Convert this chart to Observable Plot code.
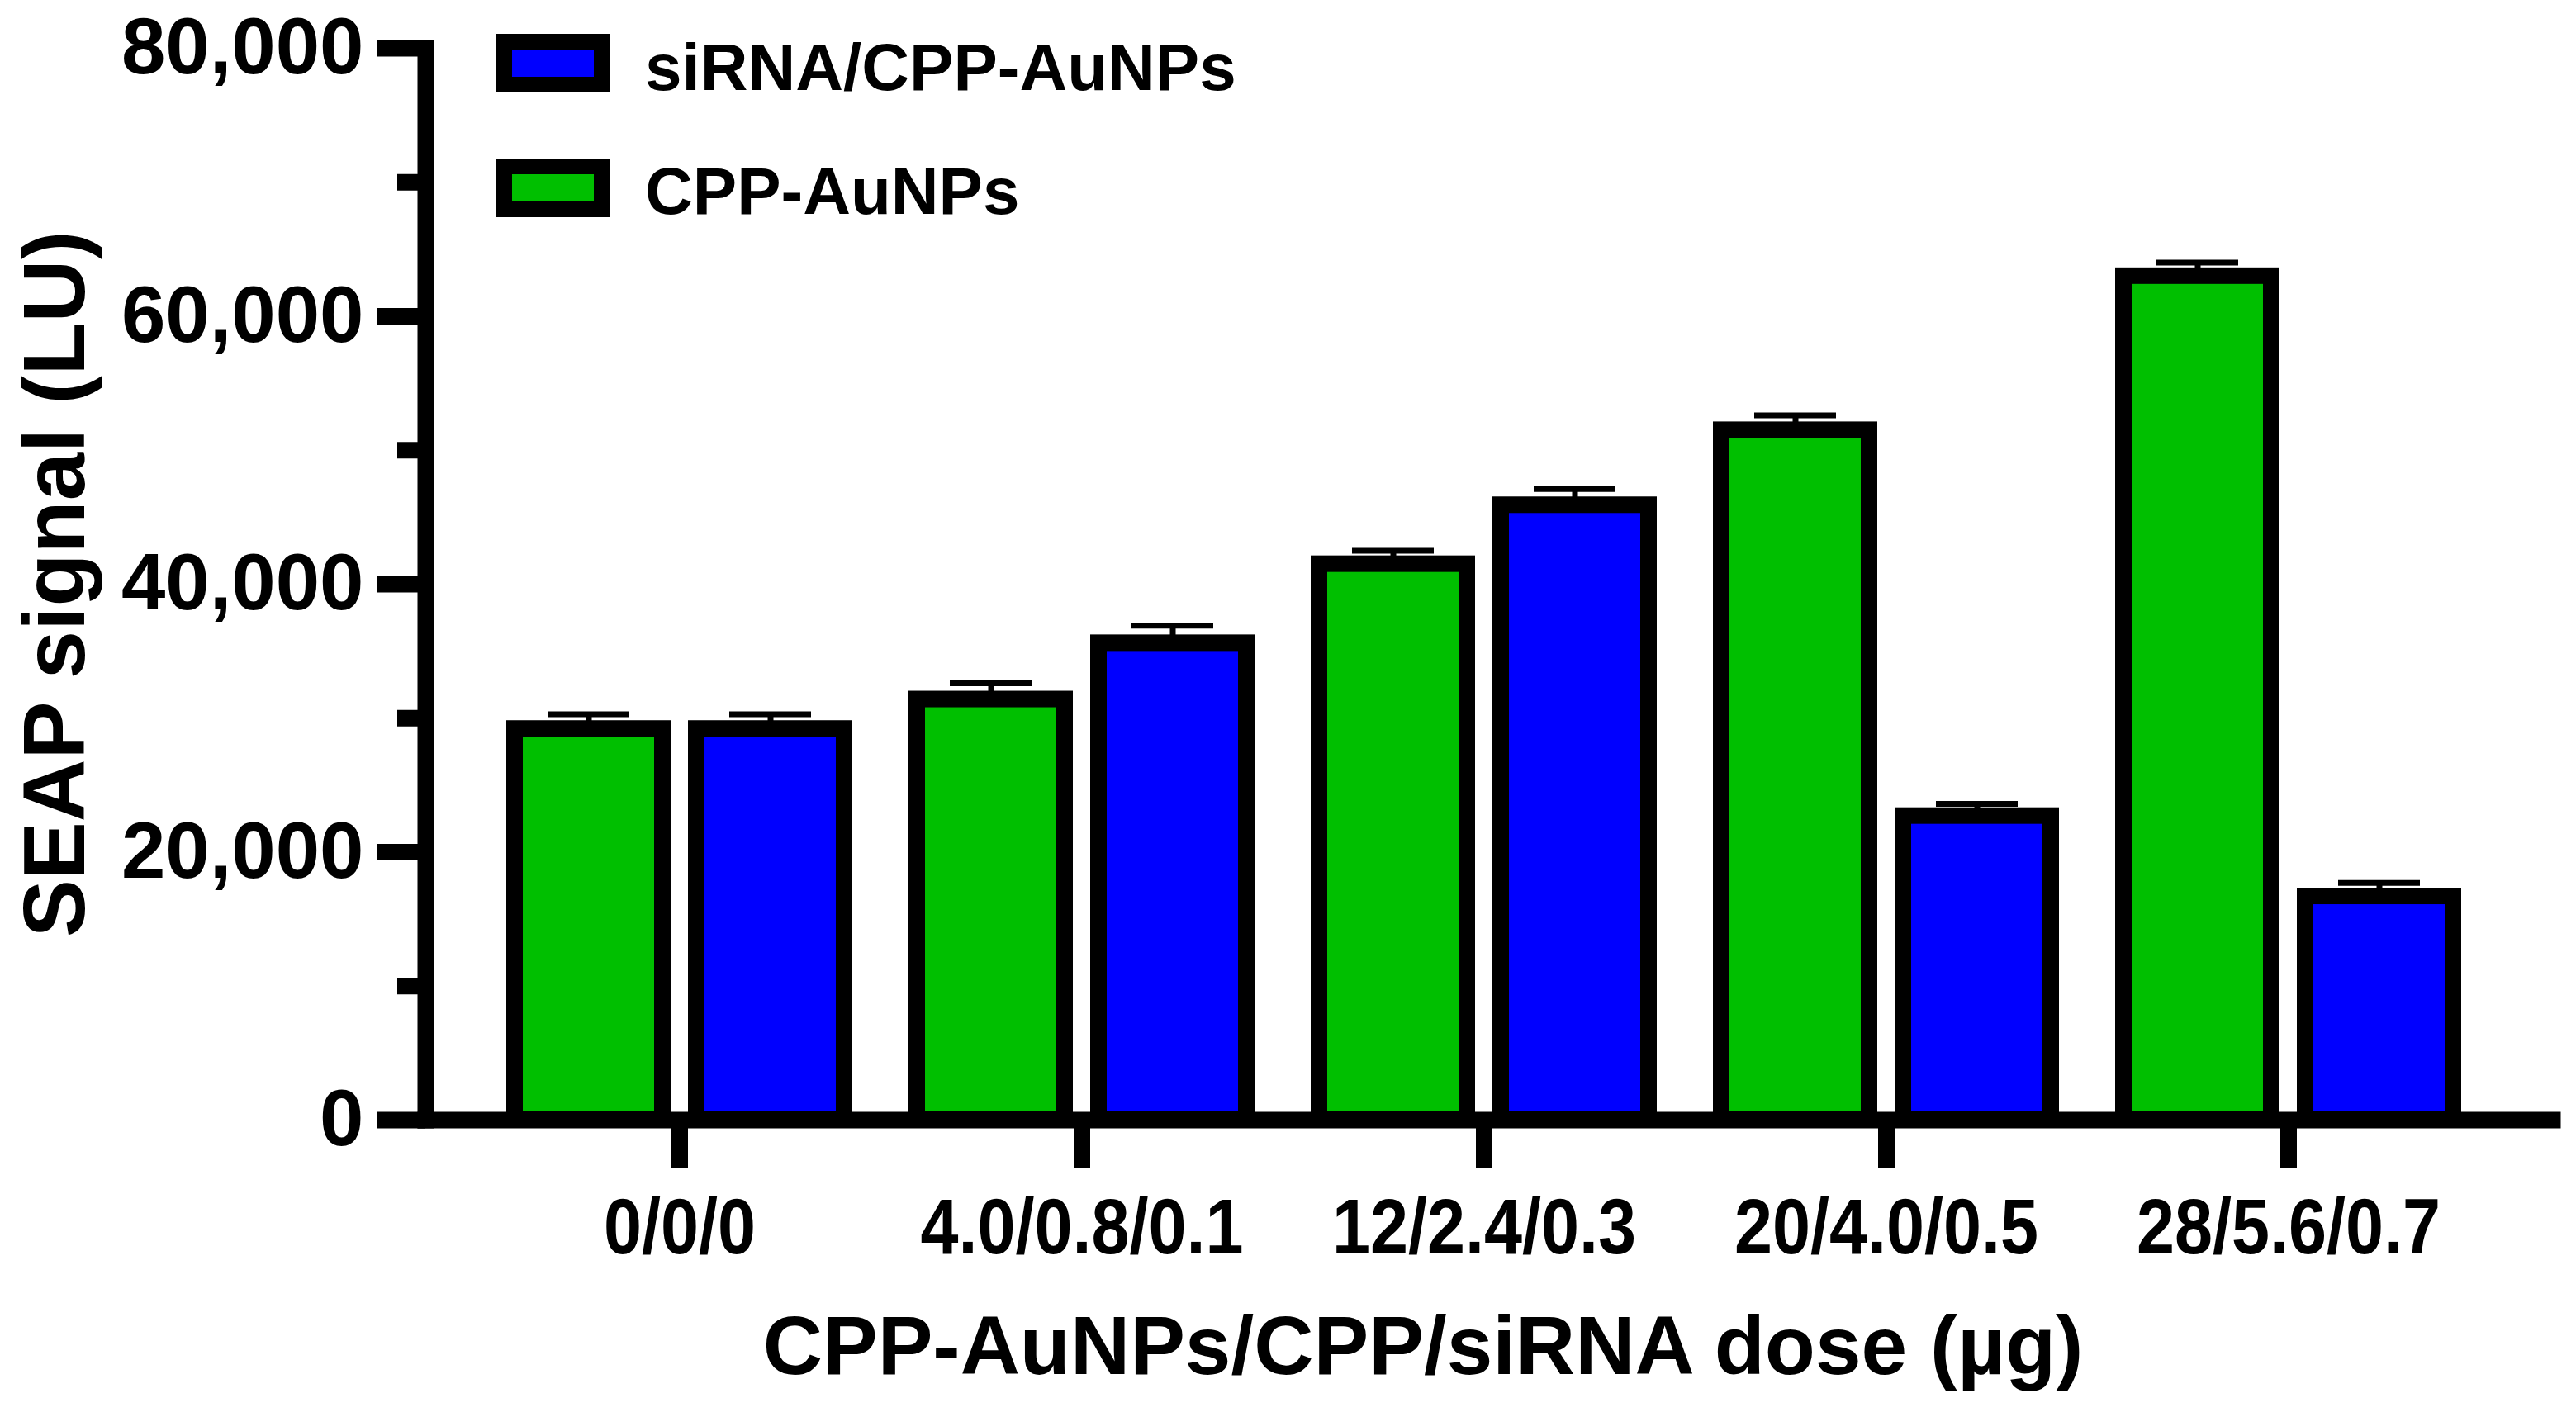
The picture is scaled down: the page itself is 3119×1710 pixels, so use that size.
<!DOCTYPE html>
<html>
<head>
<meta charset="utf-8">
<script src="https://cdn.jsdelivr.net/npm/d3@7"></script>
<script src="https://cdn.jsdelivr.net/npm/@observablehq/plot@0.6"></script>
<style>
  html, body { margin: 0; padding: 0; background: #fff; }
  #wrap { position: relative; width: 3119px; height: 1710px; font-family: "Liberation Sans", Arial, Helvetica, sans-serif; font-weight: bold; color: #000; }
  #legend { position: absolute; left: 0; top: 0; }
  .lg-box { position: absolute; left: 601px; width: 99px; height: 33px; border: 19px solid #000; }
  .lg-text { position: absolute; left: 781px; font-size: 80px; line-height: 1; white-space: nowrap; }
</style>
</head>
<body>
<div id="wrap"><div id="legend"></div></div>
<script>
// ---- data ----
const doses = ["0/0/0", "4.0/0.8/0.1", "12/2.4/0.3", "20/4.0/0.5", "28/5.6/0.7"];
const cppAuNPs = [29200, 31400, 41500, 51500, 63000];
const cppAuNPsErr = [1100, 1200, 1000, 1100, 1000];
const siRNA = [29200, 35600, 45900, 22700, 16700];
const siRNAErr = [1100, 1300, 1200, 900, 1000];
const yTicks = [0, 20000, 40000, 60000, 80000];
const yMinorTicks = [10000, 30000, 50000, 70000];
const seriesNames = ["siRNA/CPP-AuNPs", "CPP-AuNPs"];
const seriesColors = ["#0000FF", "#00BF00"];
const yTitle = "SEAP signal (LU)";
const xTitle = "CPP-AuNPs/CPP/siRNA dose (µg)";

const rows = doses.map((dose, i) => ({
  dose,
  cpp: cppAuNPs[i], cppHi: cppAuNPs[i] + cppAuNPsErr[i],
  si: siRNA[i], siHi: siRNA[i] + siRNAErr[i]
}));

const blue = seriesColors[0], green = seriesColors[1];

const chart = Plot.plot({
  width: 3119,
  height: 1710,
  marginTop: 58,
  marginBottom: 354,
  marginLeft: 515,
  marginRight: 29,
  style: {fontFamily: "Liberation Sans, Arial, Helvetica, sans-serif", fontWeight: "bold", color: "#000", background: "#fff", overflow: "visible"},
  x: {domain: doses, paddingInner: 0.18, paddingOuter: 0.2304, align: 0.476},
  y: {domain: [0, 80000]},
  marks: [
    // error bars
    Plot.ruleX(rows, {x: "dose", y1: "cpp", y2: "cppHi", dx: -110, stroke: "#000", strokeWidth: 7}),
    Plot.tickY(rows, {x: "dose", y: "cppHi", insetLeft: 40, insetRight: 260, stroke: "#000", strokeWidth: 7}),
    Plot.ruleX(rows, {x: "dose", y1: "si", y2: "siHi", dx: 110, stroke: "#000", strokeWidth: 7}),
    Plot.tickY(rows, {x: "dose", y: "siHi", insetLeft: 260, insetRight: 40, stroke: "#000", strokeWidth: 7}),
    // bars
    Plot.barY(rows, {x: "dose", y: "cpp", fill: green, stroke: "#000", strokeWidth: 20, insetLeft: 0, insetRight: 220}),
    Plot.barY(rows, {x: "dose", y: "si", fill: blue, stroke: "#000", strokeWidth: 20, insetLeft: 220, insetRight: 0}),
    // axis lines
    Plot.frame({anchor: "left", stroke: "#000", strokeWidth: 20, strokeLinecap: "square"}),
    Plot.frame({anchor: "bottom", stroke: "#000", strokeWidth: 20, strokeLinecap: "square"}),
    // y axis
    Plot.axisY({ticks: yTicks, tickFormat: d3.format(","), tickSize: 58, tickPadding: 17, strokeWidth: 20, fontSize: 96, label: null}),
    Plot.axisY({ticks: yMinorTicks, tickFormat: () => "", tickSize: 34, strokeWidth: 20, label: null}),
    // x axis
    Plot.axisX({tickSize: 59, tickPadding: 36, strokeWidth: 20, fontSize: 94, label: null}),
    // titles
    Plot.text([yTitle], {text: d => d, frameAnchor: "left", textAnchor: "middle", lineAnchor: "middle", rotate: -90, dx: -447, fontSize: 105, fontWeight: "bold"}),
    Plot.text([xTitle], {text: d => d, frameAnchor: "bottom", textAnchor: "middle", lineAnchor: "middle", dx: -80, dy: 275, fontSize: 100, fontWeight: "bold"})
  ]
});

// condensed x tick labels
d3.select(chart).selectAll("g[aria-label='x-axis tick label'] text").each(function() {
  const t = this.getAttribute("transform") || "";
  this.setAttribute("transform", t + " scale(0.88,1)");
});

document.getElementById("wrap").prepend(chart);

// legend
const legend = document.getElementById("legend");
const boxTops = [41, 192];
const textTops = [42, 192];
seriesNames.forEach((name, i) => {
  const box = document.createElement("div");
  box.className = "lg-box";
  box.style.top = boxTops[i] + "px";
  box.style.background = seriesColors[i];
  legend.appendChild(box);
  const txt = document.createElement("div");
  txt.className = "lg-text";
  txt.style.top = textTops[i] + "px";
  txt.textContent = name;
  legend.appendChild(txt);
});
</script>
</body>
</html>
